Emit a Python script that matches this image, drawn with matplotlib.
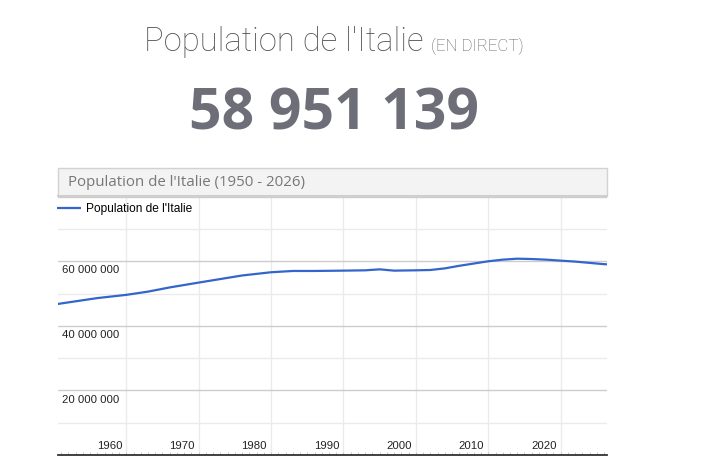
import matplotlib.pyplot as plt
import matplotlib.ticker as mticker
from matplotlib.patches import Rectangle
from matplotlib.lines import Line2D

# population de l'Italie, millions
years = [1950, 1953, 1956, 1960, 1963, 1966, 1970, 1973, 1976, 1980, 1983, 1986,
         1990, 1993, 1995, 1997, 2000, 2002, 2004, 2006, 2008, 2010, 2012, 2014,
         2016, 2018, 2020, 2022, 2024, 2026, 2027]
population = [46.6, 47.6, 48.6, 49.6, 50.6, 51.9, 53.4, 54.5, 55.6, 56.6, 57.0, 57.0,
              57.1, 57.2, 57.5, 57.1, 57.2, 57.3, 57.8, 58.6, 59.3, 60.0, 60.5, 60.8,
              60.7, 60.5, 60.2, 59.9, 59.5, 59.1, 59.0]
population = [p * 1e6 for p in population]

x_ticks = [1960, 1970, 1980, 1990, 2000, 2010, 2020]
y_labelled = [20e6, 40e6, 60e6]

title = "Population de l'Italie"
title_small = "(EN DIRECT)"
counter = "58 951 139"
header = "Population de l'Italie (1950 - 2026)"
series_name = "Population de l'Italie"

W, H = 702, 470


def fx(x):
    return x / W


def fy(y):
    return 1 - y / H


fig = plt.figure(figsize=(W / 100, H / 100), dpi=100)
fig.patch.set_facecolor('white')

# big header texts
fig.text(fx(424), fy(51), title, family='Roboto', weight='light', fontsize=23.6,
         color='#555555', ha='right', va='baseline')
fig.text(fx(431), fy(51), title_small, family='Roboto', weight='light', fontsize=12.2,
         color='#5f5f5f', ha='left', va='baseline')
fig.text(fx(334), fy(129), counter, family='Open Sans', weight='bold', fontsize=41,
         color='#6e6e78', ha='center', va='baseline')

# grey caption box above the plot
box = Rectangle((fx(58), fy(196)), fx(607) - fx(58), fy(168) - fy(196),
                transform=fig.transFigure, facecolor='#f3f3f3', edgecolor='#d2d2d2',
                linewidth=1)
fig.patches.append(box)
fig.lines.append(Line2D([fx(58), fx(607)], [fy(195.5), fy(195.5)], transform=fig.transFigure,
                        color='#cfcfcf', linewidth=1.5))
fig.text(fx(68), fy(182.5), header, family='Open Sans', fontsize=10.85, color='#777777',
         ha='left', va='center')

ax = fig.add_axes([fx(57.5), fy(455), fx(607) - fx(57.5), fy(196.7) - fy(455)])
ax.plot(years, population, color='#3366cc', linewidth=1.6, label=series_name,
        solid_capstyle='butt')
ax.set_xlim(1950.5, 2026.4)
ax.set_ylim(0, 80e6)

ax.yaxis.set_major_locator(mticker.MultipleLocator(20e6))
ax.yaxis.set_minor_locator(mticker.MultipleLocator(10e6))
ax.xaxis.set_major_locator(mticker.FixedLocator(x_ticks))
ax.xaxis.set_minor_locator(mticker.MultipleLocator(1))
ax.grid(which='major', axis='y', color='#cccccc', linewidth=1)
ax.grid(which='minor', axis='y', color='#ebebeb', linewidth=1)
ax.grid(which='major', axis='x', color='#ebebeb', linewidth=1)
ax.set_axisbelow(True)

for s in ['top', 'left', 'right']:
    ax.spines[s].set_visible(False)
ax.spines['bottom'].set_color('#333333')
ax.spines['bottom'].set_linewidth(1.3)

ax.tick_params(axis='x', which='both', direction='in', length=2.5, width=0.7,
               color='#c8c8c8', labelbottom=False)
ax.tick_params(axis='y', which='both', length=0, labelleft=False)

for yv in y_labelled:
    lab = f"{int(yv):,}".replace(',', ' ')
    ax.annotate(lab, xy=(0, yv), xycoords=ax.get_yaxis_transform(),
                xytext=(3.5, -3), textcoords='offset points', ha='left', va='top',
                family='Liberation Sans', fontsize=8.2, color='#222222')

for xv in x_ticks:
    ax.annotate(str(xv), xy=(xv, 0), xycoords=ax.get_xaxis_transform(),
                xytext=(-3, 4), textcoords='offset points', ha='right', va='baseline',
                family='Liberation Sans', fontsize=8.2, color='#222222')

ax.legend(loc='upper left', bbox_to_anchor=(fx(57), fy(203.5)), bbox_transform=fig.transFigure,
          frameon=False, handlelength=2.0, handletextpad=0.4, borderpad=0,
          borderaxespad=0, prop={'family': 'Liberation Sans', 'size': 8.6})

fig.savefig('out.png', dpi=100)
